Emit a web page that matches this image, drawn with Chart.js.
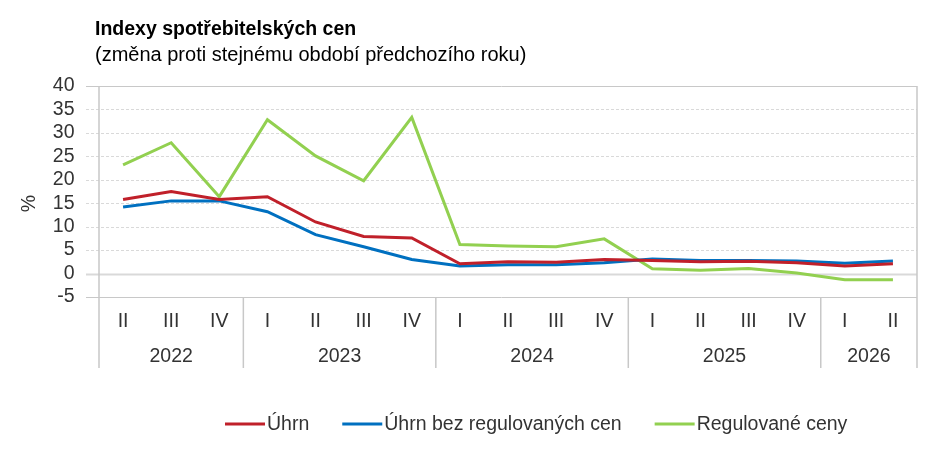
<!DOCTYPE html>
<html><head><meta charset="utf-8">
<script src="https://cdn.jsdelivr.net/npm/chart.js@4.4.1/dist/chart.umd.min.js"></script>
<style>html,body{margin:0;padding:0;background:#fff}#wrap{width:945px;height:453px;position:relative}</style>
</head><body><div id="wrap"><canvas id="c"></canvas></div>
<script>
const titleText = 'Indexy spotřebitelských cen';
const subtitleText = '(změna proti stejnému období předchozího roku)';
const yAxisLabel = '%';
const quarters = ['II','III','IV','I','II','III','IV','I','II','III','IV','I','II','III','IV','I','II'];
const years = ['2022','2023','2024','2025','2026'];
const quartersPerYear = [3,4,4,4,2];
const seriesNames = ['Úhrn','Úhrn bez regulovaných cen','Regulované ceny'];
const uhrn = [15.8,17.5,15.8,16.4,11.0,7.9,7.6,2.1,2.5,2.4,3.0,2.8,2.5,2.6,2.3,1.6,2.1];
const uhrnBezReg = [14.2,15.5,15.5,13.2,8.3,5.7,3.0,1.6,1.9,1.9,2.3,3.1,2.8,2.8,2.7,2.2,2.7];
const regulovane = [23.2,27.9,16.4,32.8,25.1,19.8,33.3,6.2,5.9,5.7,7.4,1.0,0.7,1.1,0.1,-1.3,-1.3];
const yMin = -5, yMax = 40, yStep = 5;

const colors = ['#c0202a','#0070c0','#92d050'];
const FONT = "'Liberation Sans', Arial, sans-serif";
const TXT = '#333333';

const decor = {
  id: 'decor',
  beforeDatasetsDraw(chart) {
    const {ctx, chartArea: a, scales: {x, y}} = chart;
    ctx.save();
    for (let v = yMin; v <= yMax; v += yStep) {
      const py = Math.round(y.getPixelForValue(v)) + 0.5;
      ctx.beginPath();
      if (v === 0) { ctx.lineWidth = 2; ctx.strokeStyle = '#d9d9d9'; ctx.setLineDash([]); }
      else if (v === yMin || v === yMax) { ctx.lineWidth = 1; ctx.strokeStyle = '#c8c8c8'; ctx.setLineDash([]); }
      else { ctx.lineWidth = 1; ctx.strokeStyle = '#d9d9d9'; ctx.setLineDash([3, 2]); }
      ctx.moveTo(a.left - 13, py); ctx.lineTo(a.right, py); ctx.stroke();
    }
    ctx.setLineDash([]);
    ctx.strokeStyle = '#c8c8c8'; ctx.lineWidth = 1.5;
    ctx.beginPath();
    ctx.moveTo(a.left, a.top); ctx.lineTo(a.left, x.bottom);
    ctx.moveTo(a.right, a.top); ctx.lineTo(a.right, x.bottom);
    let idx = 0;
    quartersPerYear.forEach((n, g) => {
      if (g > 0) {
        const bx = (x.getPixelForValue(idx - 1) + x.getPixelForValue(idx)) / 2;
        ctx.moveTo(bx, a.bottom); ctx.lineTo(bx, x.bottom);
      }
      idx += n;
    });
    ctx.stroke();
    ctx.restore();
  },
  afterDraw(chart) {
    const {ctx, chartArea: a, scales: {x, y}} = chart;
    ctx.save();
    ctx.fillStyle = '#000';
    ctx.textAlign = 'left'; ctx.textBaseline = 'alphabetic';
    ctx.font = 'bold 19.5px ' + FONT;
    ctx.fillText(titleText, 95, 34.5);
    ctx.font = '20px ' + FONT;
    ctx.fillText(subtitleText, 95, 60.5);
    ctx.fillStyle = TXT;
    ctx.font = '19.5px ' + FONT;
    ctx.textAlign = 'center';
    let idx = 0;
    quartersPerYear.forEach((n, g) => {
      const l = idx === 0 ? a.left : (x.getPixelForValue(idx - 1) + x.getPixelForValue(idx)) / 2;
      const e = idx + n;
      const r = e >= quarters.length ? a.right : (x.getPixelForValue(e - 1) + x.getPixelForValue(e)) / 2;
      ctx.fillText(years[g], (l + r) / 2, 362);
      idx = e;
    });
    ctx.save();
    ctx.translate(34.5, 203.5);
    ctx.rotate(-Math.PI / 2);
    ctx.fillText(yAxisLabel, 0, 0);
    ctx.restore();
    let lx = 225;
    const ly = 424;
    ctx.textAlign = 'left'; ctx.textBaseline = 'middle';
    chart.data.datasets.forEach((ds) => {
      ctx.strokeStyle = ds.borderColor; ctx.lineWidth = 3;
      ctx.beginPath(); ctx.moveTo(lx, ly); ctx.lineTo(lx + 40, ly); ctx.stroke();
      ctx.fillStyle = TXT;
      ctx.fillText(ds.label, lx + 42, ly + 1);
      lx += 42 + ctx.measureText(ds.label).width + 33;
    });
    ctx.restore();
  }
};

const seriesData = [uhrn, uhrnBezReg, regulovane];
new Chart(document.getElementById('c'), {
  type: 'line',
  data: {
    labels: quarters,
    datasets: seriesNames.map((name, i) => ({
      label: name, data: seriesData[i], borderColor: colors[i], backgroundColor: colors[i],
      borderWidth: 3, pointRadius: 0, tension: 0, fill: false
    }))
  },
  options: {
    responsive: true, maintainAspectRatio: false, animation: false,
    layout: { padding: { top: 86, right: 28, bottom: 85, left: 0 } },
    plugins: { legend: { display: false }, tooltip: { enabled: false }, title: { display: false } },
    scales: {
      x: {
        offset: true,
        grid: { display: false },
        border: { display: false },
        ticks: { color: TXT, font: { family: FONT, size: 19.5 }, padding: 5, maxRotation: 0, autoSkip: false },
        afterFit(s) { s.height = 71; }
      },
      y: {
        min: yMin, max: yMax,
        grid: { display: false },
        border: { display: false },
        ticks: { stepSize: yStep, autoSkip: false, color: TXT, font: { family: FONT, size: 19.5 }, padding: 16.5 },
        afterFit(s) { s.width = 99; }
      }
    }
  },
  plugins: [decor]
});
</script>
</body></html>
